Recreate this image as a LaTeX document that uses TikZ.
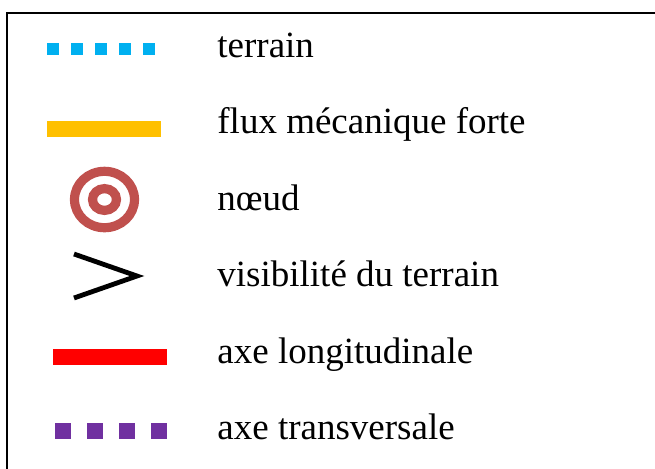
\documentclass[tikz,border=0pt]{standalone}
\usepackage{fontspec}
\setmainfont{Liberation Serif}
\usetikzlibrary{positioning}

\definecolor{terraincol}{HTML}{00B0F0}
\definecolor{fluxcol}{HTML}{FFC000}
\definecolor{noeudcol}{HTML}{C0504D}
\definecolor{longcol}{HTML}{FF0000}
\definecolor{transcol}{HTML}{7030A0}

\begin{document}
\begin{tikzpicture}[
    x=0.5pt, y=-0.5pt,
    legtext/.style={anchor=base west, inner sep=0pt, font=\fontsize{18.5}{22}\selectfont},
    frame/.style={draw=black, line width=1pt},
    terrainline/.style={terraincol, line width=6pt, dash pattern=on 6pt off 6pt},
    fluxline/.style={fluxcol, line width=8pt},
    noeudring/.style={noeudcol, line width=4.6pt},
    visline/.style={black, line width=2.4pt, miter limit=10},
    longline/.style={longcol, line width=8pt},
    transline/.style={transcol, line width=8pt, dash pattern=on 8pt off 8pt}
]
\useasboundingbox (0,0) rectangle (655,468);
\draw[frame] (7,13) rectangle (680,490);

% legend symbols
\draw[terrainline] (47,49) -- (155,49);
\draw[fluxline] (47,129) -- (161,129);
\draw[noeudring] (104.5,199.5) ellipse [x radius=30, y radius=28.2];
\draw[noeudring] (104.5,199.5) ellipse [x radius=12, y radius=10.9];
\draw[visline] (74,254) -- (137,276) -- (74,298);
\draw[longline] (53,357) -- (167,357);
\draw[transline] (55,431) -- (167,431);

% legend texts
\node[legtext] (terrain) at (217,57) {terrain};
\node[legtext] (flux) at (217,133) {flux mécanique forte};
\node[legtext] (noeud) at (217,210) {nœud};
\node[legtext] (visib) at (217,286) {visibilité du terrain};
\node[legtext] (axelong) at (217,363) {axe longitudinale};
\node[legtext] (axetrans) at (217,439) {axe transversale};
\end{tikzpicture}
\end{document}
